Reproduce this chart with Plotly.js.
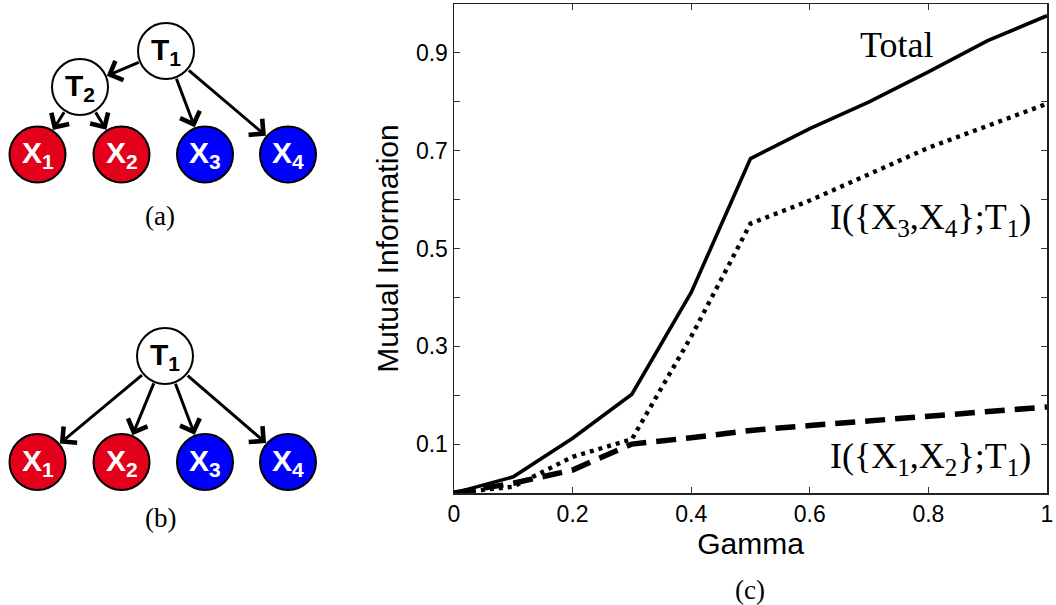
<!DOCTYPE html>
<html>
<head>
<meta charset="utf-8">
<script src="https://cdn.plot.ly/plotly-3.0.1.min.js"></script>
<style>html,body{margin:0;padding:0;background:#fff;}#chart{width:1056px;height:605px;}</style>
</head>
<body>
<div id="chart"></div>
<script>
// ---- chart (c) data ----
const gamma = [0, 0.1, 0.2, 0.3, 0.4, 0.5, 0.6, 0.7, 0.8, 0.9, 1.0];
const totalMI = [0, 0.033, 0.112, 0.202, 0.41, 0.684, 0.745, 0.80, 0.861, 0.925, 0.976];
const miX3X4 = [0, 0.013, 0.074, 0.11, 0.32, 0.551, 0.598, 0.653, 0.706, 0.751, 0.796];
const miX1X2 = [0, 0.02, 0.047, 0.10, 0.113, 0.128, 0.138, 0.148, 0.158, 0.167, 0.176];
const xTickVals = [0, 0.2, 0.4, 0.6, 0.8, 1];
const xTickText = ['0', '0.2', '0.4', '0.6', '0.8', '1'];
const yTickVals = [0.1, 0.2, 0.3, 0.4, 0.5, 0.6, 0.7, 0.8, 0.9];
const yTickText = ['0.1', '', '0.3', '', '0.5', '', '0.7', '', '0.9'];
const seriesLabels = ['Total', 'I({X<sub>3</sub>,X<sub>4</sub>};T<sub>1</sub>)', 'I({X<sub>1</sub>,X<sub>2</sub>};T<sub>1</sub>)'];

// ---- diagrams (a) and (b): nodes and edges ----
const treeANodes = ['T1', 'T2', 'X1', 'X2', 'X3', 'X4'];
const treeAX = [166, 80, 37.5, 121.5, 205, 288];
const treeAY = [51, 87, 154.5, 154.5, 154.5, 154.5];
const treeAEdges = [['T1', 'T2'], ['T2', 'X1'], ['T2', 'X2'], ['T1', 'X3'], ['T1', 'X4']];
const treeBNodes = ['T1', 'X1', 'X2', 'X3', 'X4'];
const treeBX = [165, 37.5, 121.5, 205, 288];
const treeBY = [356, 462, 462, 462, 462];
const treeBEdges = [['T1', 'X1'], ['T1', 'X2'], ['T1', 'X3'], ['T1', 'X4']];
const panelLabels = ['(a)', '(b)', '(c)'];

const RED = '#E2001A', BLUE = '#0000FF';
const SANS = 'Liberation Sans, Arial, sans-serif';
const SERIF = 'Liberation Serif, Times New Roman, serif';
const NODE_R = 28;

function nodeColor(n) {
  if (n[0] === 'T') return '#FFFFFF';
  return (n === 'X1' || n === 'X2') ? RED : BLUE;
}
function nodeLabel(n) { return n[0] + '<sub>' + n.slice(1) + '</sub>'; }

const traces = [];
const annotations = [];

function addTree(nodes, xs, ys, edges) {
  traces.push({
    x: xs, y: ys, xaxis: 'x2', yaxis: 'y2', type: 'scatter', mode: 'markers',
    marker: { size: 2 * NODE_R, color: nodes.map(nodeColor), line: { color: '#000', width: 2 } },
    hoverinfo: 'skip', showlegend: false, cliponaxis: false
  });
  nodes.forEach((n, i) => {
    annotations.push({
      xref: 'x2', yref: 'y2', x: xs[i], y: ys[i], text: nodeLabel(n), showarrow: false,
      xanchor: 'center', yanchor: 'middle',
      font: { family: SANS, size: 30, weight: 700, color: n[0] === 'T' ? '#000' : '#FFF' }
    });
  });
  edges.forEach(([p, c]) => {
    const pi = nodes.indexOf(p), ci = nodes.indexOf(c);
    annotations.push({
      xref: 'x2', yref: 'y2', axref: 'x2', ayref: 'y2',
      x: xs[ci], y: ys[ci], ax: xs[pi], ay: ys[pi], text: '', showarrow: true,
      arrowhead: 4, arrowsize: 1.35, arrowwidth: 3, arrowcolor: '#000',
      standoff: NODE_R + 1, startstandoff: NODE_R
    });
  });
}

addTree(treeANodes, treeAX, treeAY, treeAEdges);
addTree(treeBNodes, treeBX, treeBY, treeBEdges);

traces.push({
  x: gamma, y: totalMI, type: 'scatter', mode: 'lines', name: 'Total',
  line: { color: '#000', width: 3.6 }, showlegend: false
});
traces.push({
  x: gamma, y: miX3X4, type: 'scatter', mode: 'lines', name: 'I34',
  line: { color: '#000', width: 4.4, dash: '4px,5px' }, showlegend: false
});
traces.push({
  x: gamma, y: miX1X2, type: 'scatter', mode: 'lines', name: 'I12',
  line: { color: '#000', width: 5.5, dash: '20px,10px' }, showlegend: false
});

annotations.push({ xref: 'x', yref: 'y', x: 0.747, y: 0.916, text: seriesLabels[0], showarrow: false,
  xanchor: 'center', yanchor: 'middle', font: { family: SERIF, size: 36, color: '#000' } });
annotations.push({ xref: 'x', yref: 'y', x: 0.977, y: 0.56, text: seriesLabels[1], showarrow: false,
  xanchor: 'right', yanchor: 'middle', font: { family: SERIF, size: 36, color: '#000' } });
annotations.push({ xref: 'x', yref: 'y', x: 0.977, y: 0.07, text: seriesLabels[2], showarrow: false,
  xanchor: 'right', yanchor: 'middle', font: { family: SERIF, size: 36, color: '#000' } });

// panel labels
annotations.push({ xref: 'x2', yref: 'y2', x: 160, y: 216, text: panelLabels[0], showarrow: false,
  xanchor: 'center', yanchor: 'middle', font: { family: SERIF, size: 27, color: '#000' } });
annotations.push({ xref: 'x2', yref: 'y2', x: 160, y: 518, text: panelLabels[1], showarrow: false,
  xanchor: 'center', yanchor: 'middle', font: { family: SERIF, size: 27, color: '#000' } });
annotations.push({ xref: 'paper', yref: 'paper', x: 750 / 1056, y: 1 - 590 / 605, text: panelLabels[2], showarrow: false,
  xanchor: 'center', yanchor: 'middle', font: { family: SERIF, size: 27, color: '#000' } });

const layout = {
  width: 1056, height: 605,
  margin: { l: 0, r: 0, t: 0, b: 0 },
  paper_bgcolor: '#fff', plot_bgcolor: '#fff',
  showlegend: false,
  xaxis: {
    domain: [454 / 1056, 1047 / 1056], range: [0, 1],
    tickvals: xTickVals, ticktext: xTickText,
    ticks: 'inside', ticklen: 6, tickwidth: 1, tickcolor: '#333',
    showline: true, linecolor: '#222', linewidth: 1.5, mirror: 'ticks',
    showgrid: false, zeroline: false,
    tickfont: { family: SANS, size: 23, color: '#000' },
    title: { text: 'Gamma', font: { family: SANS, size: 30, color: '#000' }, standoff: 6 }
  },
  yaxis: {
    domain: [(605 - 493) / 605, (605 - 4) / 605], range: [0, 1],
    tickvals: yTickVals, ticktext: yTickText,
    ticks: 'inside', ticklen: 6, tickwidth: 1, tickcolor: '#333',
    showline: true, linecolor: '#222', linewidth: 1.5, mirror: 'ticks',
    showgrid: false, zeroline: false,
    tickfont: { family: SANS, size: 23, color: '#000' },
    title: { text: 'Mutual Information', font: { family: SANS, size: 30, color: '#000' }, standoff: 8 }
  },
  xaxis2: { domain: [0, 330 / 1056], range: [0, 330], visible: false, fixedrange: true, anchor: 'y2' },
  yaxis2: { domain: [0, 1], range: [605, 0], visible: false, fixedrange: true, anchor: 'x2' },
  annotations: annotations
};

Plotly.newPlot('chart', traces, layout, { displayModeBar: false, staticPlot: true });
</script>
</body>
</html>
